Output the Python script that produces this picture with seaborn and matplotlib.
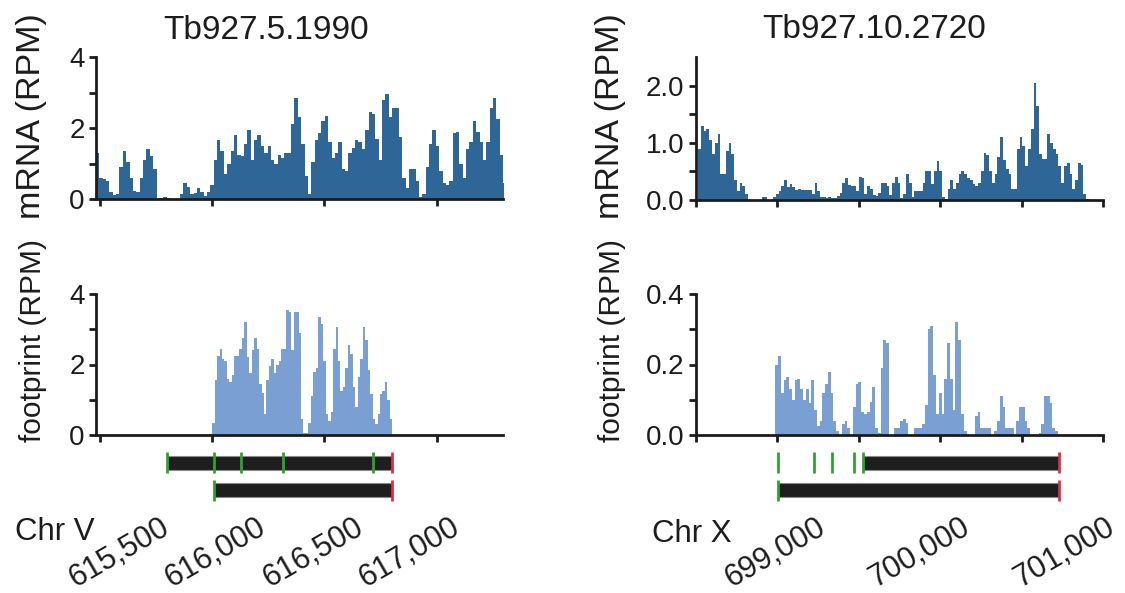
import numpy as np
import pandas as pd
import matplotlib
matplotlib.use("Agg")
import matplotlib.pyplot as plt
import seaborn as sns

# ---------------- data ----------------
# Tb927.5.1990 (Chr V): binned read coverage, RPM
v_mrna_start, v_mrna_bin = 615482, 15
v_mrna = [1.3, 0.6, 0.55, 0.5, 0.2, 0.12, 0.15, 0.9, 1.35, 1.05, 0.6, 0.22, 0.2, 0.6, 1.1,
          1.4, 1.2, 0.85, 0.0, 0.04, 0.05, 0.04, 0.0, 0.0, 0.0, 0.15, 0.45, 0.35, 0.15, 0.18,
          0.3, 0.2, 0.08, 0.2, 0.4, 1.1, 1.65, 1.35, 0.7, 1.0, 1.35, 1.8, 1.25, 1.2, 1.55,
          1.95, 1.1, 1.65, 1.8, 1.5, 1.3, 1.5, 1.1, 1.0, 1.25, 1.15, 1.3, 1.3, 2.1, 2.85,
          2.3, 1.55, 0.65, 0.15, 1.05, 1.65, 1.85, 2.2, 2.35, 1.6, 1.15, 1.3, 1.6, 0.85, 0.8,
          1.3, 1.45, 1.65, 1.6, 1.4, 1.95, 2.45, 2.4, 1.7, 1.1, 2.8, 2.95, 2.3, 2.55, 2.55,
          1.75, 0.6, 0.3, 0.85, 0.85, 0.5, 0.05, 0.15, 0.9, 1.55, 1.95, 1.5, 0.8, 0.45, 0.4,
          0.5, 1.85, 1.9, 1.0, 0.6, 1.4, 1.6, 2.2, 1.9, 1.6, 1.1, 1.6, 2.55, 2.85, 2.25,
          1.25, 0.45, 0.1]
v_fp_start, v_fp_bin = 616000, 11
v_fp = [0.35, 1.55, 2.25, 2.45, 2.15, 2.1, 1.6, 1.5, 1.7, 2.25, 2.25, 2.45, 2.75, 3.2, 2.2,
        1.75, 2.4, 2.75, 2.45, 1.45, 1.2, 0.6, 1.55, 1.95, 2.15, 1.75, 2.0, 2.1, 2.45, 2.45,
        3.55, 3.5, 2.4, 3.5, 3.5, 2.9, 0.45, 0.05, 0.05, 0.35, 1.1, 1.8, 1.9, 3.35, 3.15,
        2.1, 0.6, 0.4, 0.65, 2.45, 3.05, 2.1, 1.25, 1.35, 1.9, 2.55, 2.3, 1.35, 0.8, 1.65,
        2.15, 3.05, 2.7, 1.85, 1.15, 0.45, 0.3, 0.6, 1.15, 1.25, 1.5, 1.0, 0.45]

# Tb927.10.2720 (Chr X)
x_mrna_start, x_mrna_bin = 698515, 17
x_mrna = [0.9, 1.3, 1.2, 1.25, 1.05, 0.8, 1.0, 1.15, 0.45, 0.45, 0.85, 1.0, 0.8, 0.35, 0.15,
          0.3, 0.25, 0.1, 0.0, 0.0, 0.0, 0.0, 0.0, 0.05, 0.05, 0.0, 0.0, 0.05, 0.1, 0.15,
          0.25, 0.35, 0.22, 0.28, 0.22, 0.18, 0.2, 0.17, 0.17, 0.17, 0.18, 0.1, 0.3, 0.15,
          0.05, 0.05, 0.04, 0.05, 0.04, 0.04, 0.07, 0.12, 0.3, 0.38, 0.27, 0.25, 0.25, 0.15,
          0.4, 0.38, 0.1, 0.25, 0.2, 0.08, 0.07, 0.12, 0.3, 0.3, 0.25, 0.08, 0.3, 0.4, 0.3,
          0.03, 0.1, 0.45, 0.3, 0.05, 0.15, 0.15, 0.15, 0.3, 0.5, 0.5, 0.28, 0.5, 0.68, 0.5,
          0.05, 0.02, 0.2, 0.35, 0.2, 0.3, 0.45, 0.5, 0.45, 0.38, 0.35, 0.28, 0.25, 0.3, 0.5,
          0.82, 0.78, 0.5, 0.3, 0.45, 0.75, 1.1, 0.7, 0.55, 0.45, 0.2, 0.2, 0.9, 1.1, 0.95,
          0.6, 0.9, 1.25, 2.05, 1.65, 0.8, 0.72, 0.72, 1.15, 1.0, 0.9, 0.8, 0.6, 0.3, 0.6,
          0.65, 0.45, 0.2, 0.35, 0.65, 0.62, 0.1, 0.02]
x_fp_start, x_fp_bin = 698988, 17
x_fp = [0.2, 0.225, 0.12, 0.155, 0.165, 0.13, 0.1, 0.155, 0.16, 0.13, 0.1, 0.13, 0.09, 0.155,
        0.07, 0.025, 0.04, 0.12, 0.145, 0.18, 0.12, 0.04, 0.01, 0.0, 0.03, 0.04, 0.02, 0.0,
        0.08, 0.145, 0.15, 0.065, 0.06, 0.065, 0.095, 0.135, 0.02, 0.005, 0.19, 0.27, 0.26,
        0.0, 0.0, 0.02, 0.02, 0.04, 0.045, 0.035, 0.0, 0.0, 0.02, 0.02, 0.02, 0.03, 0.085,
        0.3, 0.31, 0.17, 0.06, 0.12, 0.06, 0.16, 0.26, 0.16, 0.07, 0.32, 0.27, 0.06, 0.01,
        0.0, 0.0, 0.0, 0.055, 0.065, 0.02, 0.02, 0.02, 0.02, 0.0, 0.01, 0.04, 0.11, 0.08,
        0.02, 0.02, 0.02, 0.0, 0.04, 0.08, 0.08, 0.04, 0.02, 0.0, 0.0, 0.0, 0.005, 0.03,
        0.11, 0.11, 0.09, 0.02, 0.01]

# gene models: (CDS start, CDS end), alternative start codons, stop codon
v_models = [(615800, 616800), (616009, 616800)]
v_starts = [[615800, 616009, 616128, 616314, 616718], [616009]]
v_stop = 616800
x_models = [(699524, 700730), (699007, 700730)]
x_starts = [[699007, 699225, 699338, 699473, 699524], [699007]]
x_stop = 700730

v_ticks = [615500, 616000, 616500, 617000]
x_ticks = [698500, 699000, 699500, 700000, 700500, 701000]
v_labels = ["615,500", "616,000", "616,500", "617,000"]
x_label_pos = [699000, 700000, 701000]
x_labels = ["699,000", "700,000", "701,000"]

# ---------------- style ----------------
sns.set_theme(style="ticks")
plt.rcParams['font.family'] = ['Liberation Sans', 'DejaVu Sans']
FS = 21
INK = "#1c1c1c"
MRNA = "#2e6698"
FOOT = "#7a9fd3"
GREEN = "#33a035"
RED = "#dc2f45"

W, H = 1125, 593
fig = plt.figure(figsize=(W / 100, H / 100), dpi=100)


def box(x0, y0, x1, y1):
    return fig.add_axes([x0 / W, 1 - y1 / H, (x1 - x0) / W, (y1 - y0) / H])


def coverage(ax, start, width, vals, color):
    n = len(vals)
    df = pd.DataFrame({"pos": start + width * (np.arange(n) + 0.5), "rpm": vals})
    sns.histplot(data=df, x="pos", weights="rpm", binwidth=width,
                 binrange=(start, start + width * n), element="step", fill=True,
                 color=color, alpha=1, linewidth=0, ax=ax)


def style(ax, xlim, xticks, ylim, yticks, ylabels, ylab, lab_size, lab_x, lab_y):
    ax.set_xlim(*xlim)
    ax.set_ylim(*ylim)
    ax.set_xticks(xticks)
    ax.set_xticklabels([])
    ax.set_yticks(yticks)
    ax.set_yticklabels(ylabels, fontsize=FS - 1, color=INK)
    for s in ["top", "right"]:
        ax.spines[s].set_visible(False)
    for s in ["left", "bottom"]:
        ax.spines[s].set_linewidth(2.0)
        ax.spines[s].set_color(INK)
    ax.tick_params(axis="both", direction="out", length=5, width=2, color=INK, pad=3)
    ax.set_xlabel("")
    ax.set_ylabel(ylab, fontsize=lab_size, color=INK)
    ax.yaxis.set_label_coords(lab_x, lab_y)
    ax.patch.set_alpha(0)


def gene_track(ax, xlim, models, starts, stop):
    ax.set_xlim(*xlim)
    ax.set_ylim(-0.5, 1.5)
    ax.axis("off")
    rows = [1, 0]
    for row, (a, b), st in zip(rows, models, starts):
        ax.barh(row, b - a, left=a, height=0.5, color="#1e1e1e",
                edgecolor="#8a8a8a", linewidth=0.8)
        ax.vlines(st, row - 0.38, row + 0.38, color=GREEN, linewidth=2.0)
        ax.vlines(stop, row - 0.38, row + 0.38, color=RED, linewidth=2.0)


def label_axis(ax, xlim, pos, labels):
    ax.set_xlim(*xlim)
    ax.set_yticks([])
    ax.set_xticks(pos)
    ax.set_xticklabels(labels, rotation=30, ha="center", va="top",
                       fontsize=FS + 1, color=INK)
    ax.tick_params(axis="x", length=0, pad=0)
    for s in ax.spines.values():
        s.set_visible(False)
    ax.patch.set_alpha(0)


MRNA_FS, FOOT_FS, TITLE_FS = 24.5, 21.5, 24

# ---------------- Chr V panel ----------------
LX0, LX1 = 95.7, 502.7
v_xlim = (615481, 617295)
ax1 = box(LX0, 57, LX1, 199)
coverage(ax1, v_mrna_start, v_mrna_bin, v_mrna, MRNA)
style(ax1, v_xlim, v_ticks, (0, 4), [0, 1, 2, 3, 4], ["0", "", "2", "", "4"],
      "mRNA (RPM)", MRNA_FS, -0.12, 0.585)
ax1.text(0.418, 1.13, "Tb927.5.1990", transform=ax1.transAxes, ha="center",
         va="baseline", fontsize=TITLE_FS, color=INK)

ax2 = box(LX0, 294, LX1, 435)
coverage(ax2, v_fp_start, v_fp_bin, v_fp, FOOT)
style(ax2, v_xlim, v_ticks, (0, 4), [0, 1, 2, 3, 4], ["0", "", "2", "", "4"],
      "footprint (RPM)", FOOT_FS, -0.12, 0.67)

ax3 = box(LX0, 449, LX1, 504)
gene_track(ax3, v_xlim, v_models, v_starts, v_stop)

ax4 = box(LX0, 508, LX1, 512)
label_axis(ax4, (615380, 617478), [615500, 616000, 616500, 617000], v_labels)
fig.text(15 / W, 1 - 540 / H, "Chr V", fontsize=FS + 1.5, color=INK, ha="left",
         va="baseline")

# ---------------- Chr X panel ----------------
RX0, RX1 = 695.7, 1103.3
x_xlim = (698500, 701000)
bx1 = box(RX0, 57, RX1, 200)
coverage(bx1, x_mrna_start, x_mrna_bin, x_mrna, MRNA)
style(bx1, x_xlim, x_ticks, (0, 2.5), [0, 0.5, 1, 1.5, 2], ["0.0", "", "1.0", "", "2.0"],
      "mRNA (RPM)", MRNA_FS, -0.17, 0.585)
bx1.text(0.437, 1.13, "Tb927.10.2720", transform=bx1.transAxes, ha="center",
         va="baseline", fontsize=TITLE_FS, color=INK)

bx2 = box(RX0, 294, RX1, 435)
coverage(bx2, x_fp_start, x_fp_bin, x_fp, FOOT)
style(bx2, x_xlim, x_ticks, (0, 0.4), [0, 0.1, 0.2, 0.3, 0.4],
      ["0.0", "", "0.2", "", "0.4"], "footprint (RPM)", FOOT_FS, -0.17, 0.67)

bx3 = box(RX0, 449, RX1, 504)
gene_track(bx3, x_xlim, x_models, x_starts, x_stop)

bx4 = box(RX0, 508, RX1, 512)
label_axis(bx4, (698451, 701272), x_label_pos, x_labels)
fig.text(652 / W, 1 - 542 / H, "Chr X", fontsize=FS + 1.5, color=INK, ha="left",
         va="baseline")

fig.savefig("out.png", dpi=100)
